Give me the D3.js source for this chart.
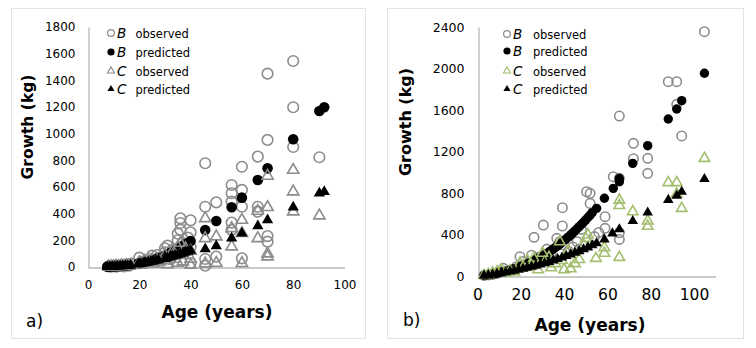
<!DOCTYPE html>
<html>
<head>
<meta charset="utf-8">
<script src="https://cdnjs.cloudflare.com/ajax/libs/d3/7.8.5/d3.min.js"></script>
<style>
  body { margin: 0; background: #fff; }
  text { font-family: "DejaVu Sans", Verdana, sans-serif; fill: #000; }
</style>
</head>
<body>
<div id="canvas"></div>
<script>
// panel a: age (years) vs growth (kg)
const aBObs = [[8,5],[9,2],[10,10],[11,3],[12,8],[13,15],[14,5],[15,20],[16,10],[17,25],[20,70],[21,40],[22,30],[24,60],[25,85],[26,45],[27,90],[28,70],[30,140],[30,110],[31,160],[32,60],[33,130],[34,100],[35,200],[35,250],[36,365],[36,330],[36,280],[37,180],[38,120],[39,220],[40,350],[40,260],[40,150],[40,30],[45.7,778],[45.7,452],[45.7,60],[45.7,10],[50,485],[50,78],[56,615],[56,553],[56,490],[56,333],[56,278],[60,752],[60,578],[60,452],[60,65],[66.2,828],[66.2,452],[66.2,415],[70,1450],[70,953],[70,232],[70,190],[80,1545],[80,1198],[80,900],[90.2,823]];
const aBPred = [[7.5,2],[8.5,3],[9.5,4],[10.5,5],[11.5,6],[12.5,8],[13.5,9],[14.5,11],[15.5,13],[16.5,15],[19.5,25],[20.5,30],[21.5,35],[22.5,40],[23.5,45],[24.5,50],[25.5,56],[26.5,62],[27.5,68],[30,85],[31,95],[32,105],[33,115],[34,125],[35,135],[36,150],[37,160],[38,170],[39,180],[40,195],[45.7,278],[50,345],[56,448],[60,520],[66.2,653],[70,740],[80,958],[90.2,1170],[92.1,1198]];
const aCObs = [[8,3],[9,5],[10,2],[11,8],[12,4],[13,10],[14,6],[15,12],[16,8],[17,14],[20,35],[21,20],[22,45],[23,30],[25,55],[26,25],[27,50],[28,40],[30,90],[30,50],[31,20],[33,120],[34,60],[35,150],[35,30],[36,180],[36,90],[37,40],[38,140],[40,120],[40,60],[40,15],[45.7,365],[45.7,215],[45.7,25],[50,228],[50,30],[56,290],[56,153],[60,352],[60,253],[60,28],[66.2,420],[66.2,215],[70,683],[70,448],[70,100],[70,78],[80,727],[80,565],[80,415],[90.2,385]];
const aCPred = [[7.5,1],[8.5,2],[9.5,3],[10.5,4],[11.5,5],[12.5,6],[13.5,7],[14.5,9],[15.5,10],[16.5,12],[19.5,20],[20.5,24],[21.5,28],[22.5,32],[23.5,36],[24.5,40],[25.5,44],[26.5,48],[27.5,52],[30,62],[31,68],[32,74],[33,80],[34,86],[35,92],[36,98],[37,104],[38,110],[39,117],[40,124],[45.7,135],[50,158],[56,215],[60,253],[66.2,307],[70,352],[80,448],[90.2,553],[92.1,565]];

// panel b
const bBObs = [[3,5],[5,10],[7,15],[9,25],[11,40],[12,74],[14,50],[16,60],[18,90],[19.6,186],[21,140],[23,120],[25,200],[26.1,373],[28,180],[30.4,491],[32,260],[34,220],[36.6,363],[38,330],[39.2,658],[39.2,482],[40,300],[42,240],[44,280],[46,330],[47,260],[48,450],[50.4,812],[52,797],[52,700],[54,380],[56,420],[58.9,572],[58.9,460],[62.7,957],[65.5,941],[65.5,1542],[65.5,417],[65.5,353],[72,1279],[72,1130],[78.6,1134],[78.6,990],[88.1,1873],[92,1873],[92,1655],[94.3,1350],[104.8,2355]];
const bBPred = [[3,5],[4,8],[5,11],[6,14],[7,18],[8,22],[9,27],[10,31],[11,36],[12,41],[13,46],[14,52],[15,57],[16,63],[17,70],[18,76],[19,84],[20,92],[21,100],[22,108],[23,117],[24,126],[25,135],[26,146],[27,156],[28,168],[29,179],[30,192],[31,204],[32,218],[33,231],[34,246],[35,260],[36,276],[37,291],[38,307],[39,324],[40,341],[41,359],[42,377],[43,396],[44,415],[45,435],[46,455],[47,476],[48,497],[49,519],[50,541],[51,564],[52,587],[53,611],[55,652],[58.6,749],[62.7,845],[65.5,909],[65.5,940],[71.7,1086],[78.6,1256],[88.1,1513],[92,1610],[94.3,1690],[104.8,1954]];
const bCObs = [[3,5],[5,15],[7,30],[9,40],[11,60],[13,30],[15,50],[17,40],[19.6,120],[21,80],[23,150],[25,100],[26,170],[28,60],[30,220],[31,130],[33,180],[34,80],[36,120],[38,330],[39,150],[40,60],[42,240],[43,70],[45,120],[47,160],[49,300],[50,363],[51,395],[54.7,170],[58.6,273],[58.6,220],[65.5,732],[65.5,680],[65.5,180],[71.7,620],[78.6,530],[78.6,480],[88.1,900],[92,900],[92,790],[94.3,652],[104.8,1134]];
const bCPred = [[3,3],[5,8],[7,14],[9,20],[11,28],[13,36],[15,44],[17,52],[19,60],[21,70],[23,80],[25,90],[27,100],[29,112],[31,124],[33,136],[35,150],[37,164],[39,178],[41,193],[43,208],[45,224],[47,240],[49,258],[51,276],[53,296],[55,315],[58.6,353],[62.3,411],[65.5,450],[71.7,530],[78.6,612],[88.1,733],[92,774],[94.3,812],[104.8,935]];

const aYTicks = [0,200,400,600,800,1000,1200,1400,1600,1800];
const bYTicks = [0,400,800,1200,1600,2000,2400];
const xTicks = [0,20,40,60,80,100];
const legendNames = ["observed", "predicted", "observed", "predicted"];
const legendSym = ["B", "B", "C", "C"];

const width = 756, height = 348;
const svg = d3.select("#canvas").append("svg")
  .attr("width", width).attr("height", height);

function drawPanel(p) {
  const g = svg.append("g");

  g.append("rect")
    .attr("x", p.box[0] + 0.5).attr("y", p.box[1] + 0.5)
    .attr("width", p.box[2]).attr("height", p.box[3])
    .attr("fill", "#fff").attr("stroke", "#e3e3e3");

  const x = d3.scaleLinear().domain([0, p.xMax]).range(p.xRange);
  const y = d3.scaleLinear().domain([0, p.yMax]).range(p.yRange);

  // axes: plain grey lines, no tick marks
  const xAxis = g.append("g")
    .attr("transform", `translate(0,${Math.round(y(0)) + 0.5})`)
    .call(d3.axisBottom(x).tickValues(xTicks).tickFormat(d3.format("d"))
      .tickSize(0).tickPadding(p.xPad));
  const yAxis = g.append("g")
    .attr("transform", `translate(${Math.round(x(0)) + 0.5},0)`)
    .call(d3.axisLeft(y).tickValues(p.yTicks).tickFormat(d3.format("d"))
      .tickSize(0).tickPadding(p.yPad));
  [xAxis, yAxis].forEach(a => {
    a.select(".domain").attr("stroke", "#b7b7b7").attr("stroke-width", 1.3);
    a.selectAll("text").attr("font-family", "DejaVu Sans").attr("fill", "#000");
  });
  xAxis.selectAll("text").attr("font-size", p.xFont);
  yAxis.selectAll("text").attr("font-size", p.yFont);

  const tri = d3.symbol().type(d3.symbolTriangle);

  g.append("g").selectAll("circle").data(p.series[0]).join("circle")
    .attr("cx", d => x(d[0])).attr("cy", d => y(d[1])).attr("r", p.r)
    .attr("fill", "none").attr("stroke", "#8c8c8c").attr("stroke-width", 1.6);

  g.append("g").selectAll("circle").data(p.series[1]).join("circle")
    .attr("cx", d => x(d[0])).attr("cy", d => y(d[1])).attr("r", p.r)
    .attr("fill", "#000");

  g.append("g").selectAll("path").data(p.series[2]).join("path")
    .attr("d", tri.size(p.triSize)())
    .attr("transform", d => `translate(${x(d[0])},${y(d[1])})`)
    .attr("fill", "none").attr("stroke", p.cColor).attr("stroke-width", 1.6);

  g.append("g").selectAll("path").data(p.series[3]).join("path")
    .attr("d", tri.size(p.triSize)())
    .attr("transform", d => `translate(${x(d[0])},${y(d[1])})`)
    .attr("fill", "#000");

  // axis titles
  g.append("text")
    .attr("x", p.xTitle[0]).attr("y", p.xTitle[1])
    .attr("text-anchor", "middle").attr("font-weight", "bold")
    .attr("font-size", 17).text("Age (years)");
  g.append("text")
    .attr("transform", `translate(${p.yTitle[0]},${p.yTitle[1]}) rotate(-90)`)
    .attr("text-anchor", "middle").attr("font-weight", "bold")
    .attr("font-size", p.yTitleFont).text("Growth (kg)");

  g.append("text")
    .attr("x", p.tag[0]).attr("y", p.tag[1])
    .attr("font-size", 17).text(p.label);

  // legend
  const lg = g.append("g");
  legendNames.forEach((name, i) => {
    const ly = p.legendY[i];
    const mx = p.legendX;
    if (i === 0) {
      lg.append("circle").attr("cx", mx).attr("cy", ly).attr("r", 3.4)
        .attr("fill", "none").attr("stroke", "#8c8c8c").attr("stroke-width", 1.2);
    } else if (i === 1) {
      lg.append("circle").attr("cx", mx).attr("cy", ly).attr("r", 3.6).attr("fill", "#000");
    } else {
      lg.append("path").attr("d", tri.size(22)())
        .attr("transform", `translate(${mx},${ly})`)
        .attr("fill", i === 2 ? "none" : "#000")
        .attr("stroke", i === 2 ? p.cColor : "none").attr("stroke-width", 1.1);
    }
    lg.append("text").attr("x", mx + 6).attr("y", ly + 4.5)
      .attr("font-size", 13.5).attr("font-style", "italic").text(legendSym[i]);
    lg.append("text").attr("x", mx + p.legendTextDx).attr("y", ly + 4.5)
      .attr("font-size", 11.5).text(name);
  });
}

drawPanel({
  label: "a)",
  box: [11, 8, 354, 330],
  xMax: 100, xRange: [88, 344.5],
  yMax: 1800, yRange: [267, 27],
  yTicks: aYTicks,
  xFont: 12, yFont: 12, xPad: 13, yPad: 13,
  r: 5.3, triSize: 55,
  cColor: "#8c8c8c",
  series: [aBObs, aBPred, aCObs, aCPred],
  xTitle: [217, 318], yTitle: [33, 127], yTitleFont: 15.5,
  tag: [26, 327],
  legendX: 111, legendY: [33, 52, 71, 89], legendTextDx: 24.5
});

drawPanel({
  label: "b)",
  box: [387, 8, 356, 330],
  xMax: 110, xRange: [477.5, 715.7],
  yMax: 2400, yRange: [276, 27],
  yTicks: bYTicks,
  xFont: 15.5, yFont: 12.5, xPad: 12, yPad: 14,
  r: 4.7, triSize: 48,
  cColor: "#a3bf6e",
  series: [bBObs, bBPred, bCObs, bCPred],
  xTitle: [590, 331], yTitle: [411, 122], yTitleFont: 16,
  tag: [403, 326],
  legendX: 507, legendY: [34, 51, 71, 89], legendTextDx: 26
});
</script>
</body>
</html>
